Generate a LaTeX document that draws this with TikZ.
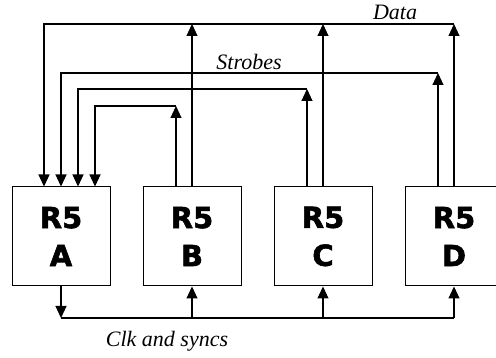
\documentclass[tikz,border=0pt]{standalone}
\usepackage{fontspec}
\setmainfont{Liberation Serif}
\newfontfamily\boxfont{DejaVu Sans Bold}[FakeBold=2]
\usetikzlibrary{arrows.meta}

\tikzset{
  rbox/.style={draw, line width=1pt, minimum width=98pt, minimum height=99pt,
               align=center, inner sep=0pt,
               font=\boxfont\fontsize{29}{38}\selectfont},
  lbl/.style={font=\itshape\fontsize{22}{24}\selectfont, inner sep=0pt, anchor=base},
}

\begin{document}
\begin{tikzpicture}[x=1pt,y=-1pt,line width=1.1pt,
                    >={Triangle[length=12pt,width=11pt]}]
  \useasboundingbox (0,0) rectangle (496,358);

  % the four R5 boards
  \node[rbox] (A) at (61,236.5)  {R5\\A};
  \node[rbox] (B) at (192,236.5) {R5\\B};
  \node[rbox] (C) at (323,236.5) {R5\\C};
  \node[rbox] (D) at (454,236.5) {R5\\D};

  % rows of the buses
  \coordinate (data) at (0,24);
  \coordinate (s1) at (0,73);
  \coordinate (s2) at (0,89);
  \coordinate (s3) at (0,106);
  \coordinate (clk) at (0,318);

  % data bus
  \foreach \src in {B,C,D}
    \draw[->] (\src.north) -- (data -| \src.north);
  \draw[->] (data -| D.north) -| ([xshift=-17pt]A.north);

  % strobes
  \foreach \src/\row/\off in {D/s1/0, C/s2/17, B/s3/34} {
    \coordinate (out) at ([xshift=-16pt]\src.north);
    \coordinate (in) at ([xshift=\off pt]A.north);
    \draw[->] (out) -- (out |- \row);
    \draw[->] (out |- \row) -| (in);
  }

  % clock and syncs
  \draw[->] (A.south) -- (clk -| A.south);
  \draw (clk -| A.south) -- (clk -| D.south);
  \foreach \dst in {B,C,D}
    \draw[->] (clk -| \dst.south) -- (\dst.south);

  % labels
  \node[lbl] (datalbl) at (395,20) {Data};
  \node[lbl] (strlbl) at (249,70) {Strobes};
  \node[lbl] (clklbl) at (167,347) {Clk and syncs};
\end{tikzpicture}
\end{document}
